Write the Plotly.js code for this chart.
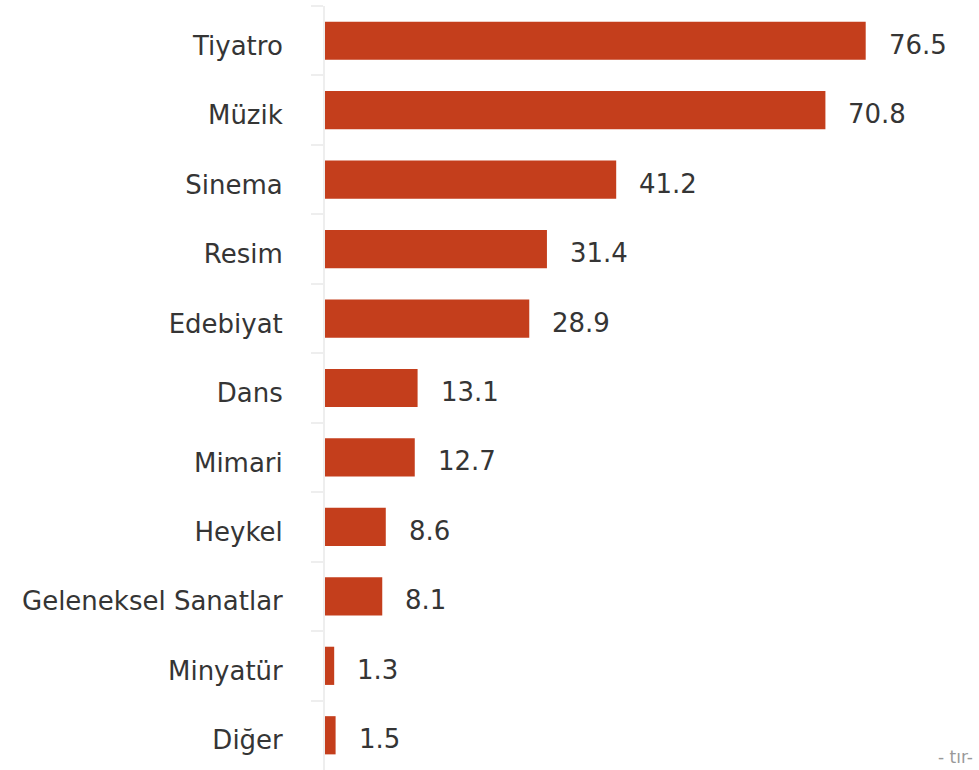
<!DOCTYPE html>
<html>
<head>
<meta charset="utf-8">
<script src="https://cdn.plot.ly/plotly-3.0.1.min.js"></script>
<style>html,body{margin:0;padding:0;background:#fff;}#chart{width:979px;height:770px;}</style>
</head>
<body>
<div id="chart"></div>
<script>
const categories = ["Tiyatro", "Müzik", "Sinema", "Resim", "Edebiyat", "Dans", "Mimari", "Heykel", "Geleneksel Sanatlar", "Minyatür", "Diğer"];
const values = [76.5, 70.8, 41.2, 31.4, 28.9, 13.1, 12.7, 8.6, 8.1, 1.3, 1.5];
const valueLabels = ["76.5", "70.8", "41.2", "31.4", "28.9", "13.1", "12.7", "8.6", "8.1", "1.3", "1.5"];
const sourceNote = "- tır-";

const FONT = "'DejaVu Sans', sans-serif";
const TEXT_COLOR = "#353535";

const trace = {
  type: "bar",
  orientation: "h",
  y: categories,
  x: values,
  width: 0.55,
  marker: {color: "#C43E1C"},
  hoverinfo: "none"
};

const annotations = categories.map((c, i) => ({
  x: values[i], y: c, xref: "x", yref: "y",
  text: valueLabels[i], showarrow: false,
  xanchor: "left", yanchor: "middle", xshift: 21, yshift: -4,
  font: {family: FONT, size: 26, color: TEXT_COLOR}
}));
annotations.push({
  x: 1, y: 0, xref: "paper", yref: "paper", xanchor: "right", yanchor: "bottom",
  xshift: 16, yshift: 1,
  text: sourceNote, showarrow: false,
  font: {family: FONT, size: 17, color: "#999999"}
});

const layout = {
  width: 979, height: 770,
  margin: {l: 325, r: 20, t: 6, b: 0},
  paper_bgcolor: "#ffffff", plot_bgcolor: "#ffffff",
  showlegend: false,
  xaxis: {range: [0, 89.7], showgrid: false, zeroline: false, showticklabels: false, showline: false, fixedrange: true},
  yaxis: {
    type: "category", categoryorder: "array", categoryarray: categories, autorange: "reversed",
    showgrid: false, zeroline: false,
    showline: true, linecolor: "#eeeeee", linewidth: 2,
    ticks: "outside", tickson: "boundaries", ticklen: 12, tickcolor: "#eeeeee", tickwidth: 2,
    ticklabelstandoff: 35,
    ticklabelshift: -5,
    tickfont: {family: FONT, size: 26, color: TEXT_COLOR},
    fixedrange: true
  },
  annotations: annotations
};

Plotly.newPlot("chart", [trace], layout, {displayModeBar: false, staticPlot: true});
</script>
</body>
</html>
